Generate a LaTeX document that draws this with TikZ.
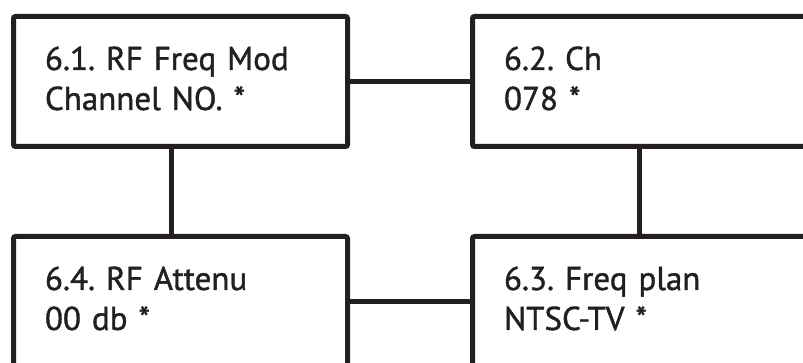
\documentclass[tikz,border=0pt]{standalone}
\usepackage{fontspec}
\setmainfont{PT Sans}[UprightFeatures={FakeBold=1.2}]
\usepackage{tikz}
\frenchspacing
\definecolor{menuInk}{HTML}{231F20}
\tikzstyle{line} = [line width=5pt, draw=menuInk, line cap=round]
\tikzstyle{menuRec} = [rectangle, rounded corners=2pt, minimum width=334pt, minimum height=130pt, text width=271pt, inner xsep=31.5pt, text height=25pt, text depth=48pt, align=left, draw=menuInk, line width=5pt, font=\fontsize{33}{40}\selectfont, text=menuInk]

\begin{document}
\begin{tikzpicture}[x=1pt, y=1pt, node distance=220pt]
		\useasboundingbox (0,0) rectangle (803,363);
		\node (freqmod) [menuRec] at (180.5,281.5) {6.1. RF Freq Mod\\Channel NO. *};
		\node (attenu) [menuRec, below of=freqmod] {6.4. RF Attenu\\00 db *};
		\node (channel) [menuRec, right of=freqmod, node distance=459pt] {6.2. Ch\\078 *};
		\node (freqplan) [menuRec, below of=channel] {6.3. Freq plan\\NTSC-TV *};
		\draw [line] (freqmod) -- (channel);
		\draw [line] ([xshift=-9.5pt]freqmod.south) -- ([xshift=-9.5pt]attenu.north);
		\draw [line] (channel) -- (freqplan);
		\draw [line] (attenu) -- (freqplan);
	\end{tikzpicture}
\end{document}
